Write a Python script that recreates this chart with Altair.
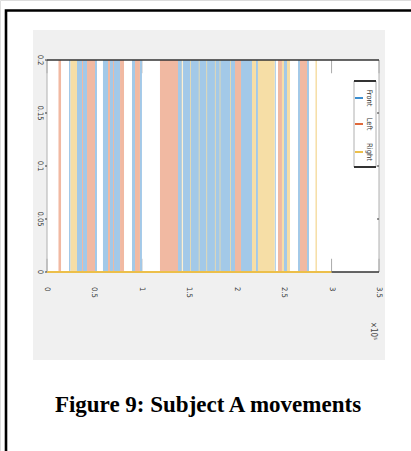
import altair as alt
import pandas as pd

# Time axis is in units of 1e5 samples; each movement is an interval where the
# signal sits at 0.2.
series_names = ["Front", "Left", "Right"]

front_start = [0.232, 0.316, 0.506, 0.590, 0.664, 0.896, 0.980, 1.381, 1.434, 2.045, 2.203, 2.272, 2.400, 2.498, 2.646, 2.741]
front_end = [0.248, 0.422, 0.527, 0.643, 0.770, 0.928, 1.001, 1.423, 1.982, 2.161, 2.224, 2.282, 2.412, 2.530, 2.667, 2.762]

left_start = [0.121, 0.369, 0.422, 0.643, 0.696, 0.770, 0.928, 1.191, 1.982, 2.435, 2.667]
left_end = [0.148, 0.380, 0.506, 0.664, 0.706, 0.812, 0.980, 1.381, 2.045, 2.477, 2.741]

right_start = [0.248, 1.420, 1.510, 1.600, 1.680, 1.770, 1.820, 1.930, 2.161, 2.224, 2.477, 2.530, 2.830]
right_end = [0.316, 1.428, 1.518, 1.608, 1.688, 1.778, 1.828, 1.938, 2.203, 2.400, 2.498, 2.562, 2.846]

signal_high = 0.2
signal_low = 0.0
record_end = 3.0

x_ticks = [0, 0.5, 1, 1.5, 2, 2.5, 3, 3.5]
y_ticks = [0, 0.05, 0.1, 0.15, 0.2]

fill_colors = ["#a3c9e8", "#f1b9a2", "#f6dea6"]
line_colors = ["#3b8ed0", "#e0693a", "#ecbf4a"]

# page size and the axes rectangle inside it
PW, PH = 411, 451
L, R, T, B = 47, 379, 60, 272
narrow = "Liberation Sans Narrow, DejaVu Sans Condensed, Arial Narrow, sans-serif"

rows = []
for name, starts, ends in zip(series_names, [front_start, left_start, right_start],
                              [front_end, left_end, right_end]):
    for s, e in zip(starts, ends):
        rows.append({"series": name, "start": s, "end": e,
                     "low": signal_low, "high": signal_high})
moves = pd.DataFrame(rows)

xs = alt.Scale(domain=[0, 3.5], range=[L, R], nice=False, zero=False)
ys = alt.Scale(domain=[0, 0.2], range=[B, T], nice=False)
color = alt.Color("series:N", scale=alt.Scale(domain=series_names, range=fill_colors), legend=None)


def block(**enc):
    return alt.Chart(pd.DataFrame({"k": [0]})).encode(**enc)


# grey figure panel and white axes area
panel = block(x=alt.value(33), x2=alt.value(385), y=alt.value(30), y2=alt.value(360)).mark_rect(color="#f0f0f0")
axes_bg = block(x=alt.value(L), x2=alt.value(R), y=alt.value(T), y2=alt.value(B)).mark_rect(color="white")

# inward ticks along bottom and top edges
tick_df = pd.DataFrame({"x": x_ticks, "b0": [0.0] * 8, "b1": [0.0125] * 8,
                        "t0": [0.2 - 0.0125] * 8, "t1": [0.2] * 8})
ticks_bottom = alt.Chart(tick_df).mark_rule(color="#aaaaaa", strokeWidth=1).encode(
    x=alt.X("x:Q", scale=xs, axis=None), y=alt.Y("b0:Q", scale=ys, axis=None), y2="b1:Q")
ticks_top = alt.Chart(tick_df).mark_rule(color="#aaaaaa", strokeWidth=1).encode(
    x=alt.X("x:Q", scale=xs, axis=None), y=alt.Y("t0:Q", scale=ys, axis=None), y2="t1:Q")

bars = alt.Chart(moves).mark_rect().encode(
    x=alt.X("start:Q", scale=xs, axis=None),
    x2="end:Q",
    y=alt.Y("low:Q", scale=ys, axis=None),
    y2="high:Q",
    color=color,
)

baseline = alt.Chart(pd.DataFrame({"a": [0.0], "b": [record_end], "y": [signal_low]})).mark_rule(
    color="#ecbf4a", strokeWidth=2).encode(
    x=alt.X("a:Q", scale=xs, axis=None), x2="b:Q", y=alt.Y("y:Q", scale=ys, axis=None))

# axes box
left_edge = block(x=alt.value(L), y=alt.value(T), y2=alt.value(B)).mark_rule(color="#b0b0b0", strokeWidth=1)
right_edge = block(x=alt.value(R), y=alt.value(T), y2=alt.value(B)).mark_rule(color="#b0b0b0", strokeWidth=1)
top_edge = block(x=alt.value(L), x2=alt.value(R), y=alt.value(T)).mark_rule(color="#333333", strokeWidth=1.5)
bottom_tail = alt.Chart(pd.DataFrame({"a": [record_end], "b": [3.5], "y": [0.0]})).mark_rule(
    color="#333333", strokeWidth=1.5).encode(
    x=alt.X("a:Q", scale=xs, axis=None), x2="b:Q", y=alt.Y("y:Q", scale=ys, axis=None))

# y ticks and labels
ytick_df = pd.DataFrame({"y": y_ticks})
yticks_left = alt.Chart(ytick_df).mark_rule(color="#333333", strokeWidth=1).encode(
    y=alt.Y("y:Q", scale=ys, axis=None), x=alt.value(L - 2), x2=alt.value(L))
yticks_right = alt.Chart(pd.DataFrame({"y": y_ticks[1:-1]})).mark_rule(color="#333333", strokeWidth=1).encode(
    y=alt.Y("y:Q", scale=ys, axis=None), x=alt.value(R - 2), x2=alt.value(R))
ylabels = alt.Chart(ytick_df).mark_text(
    angle=90, fontSize=7.5, font=narrow, color="#333", align="center", baseline="top").encode(
    y=alt.Y("y:Q", scale=ys, axis=None), x=alt.value(L - 3), text=alt.Text("y:Q", format="~g"))

# x labels
xlabels = alt.Chart(pd.DataFrame({"x": x_ticks})).mark_text(
    angle=90, fontSize=7.5, font=narrow, color="#333", align="left", baseline="middle").encode(
    x=alt.X("x:Q", scale=xs, axis=None), y=alt.value(B + 15), text=alt.Text("x:Q", format="~g"))

exp_label = alt.Chart(pd.DataFrame({"t": ["×10⁵"]})).mark_text(
    angle=90, fontSize=8, font=narrow, color="#444", align="center", baseline="middle").encode(
    text="t:N", x=alt.value(R - 6), y=alt.value(331))

# legend box
legend_bg = block(x=alt.value(354), x2=alt.value(376), y=alt.value(81), y2=alt.value(167)).mark_rect(
    fill="white", stroke="#b0b0b0", strokeWidth=1)
legend_top = block(x=alt.value(354), x2=alt.value(376), y=alt.value(81)).mark_rule(color="#333333", strokeWidth=2)
legend_bottom = block(x=alt.value(354), x2=alt.value(376), y=alt.value(167)).mark_rule(color="#333333", strokeWidth=2)

legend_layers = []
for name, col, yy in zip(series_names, line_colors, [98, 124, 152]):
    d = pd.DataFrame({"series": [name]})
    legend_layers.append(alt.Chart(d).mark_rule(color=col, strokeWidth=2).encode(
        x=alt.value(355), x2=alt.value(363), y=alt.value(yy)))
    legend_layers.append(alt.Chart(d).mark_text(
        angle=90, fontSize=7.5, font=narrow, color="#333", align="center", baseline="middle").encode(
        text="series:N", x=alt.value(369), y=alt.value(yy)))

caption = alt.Chart(pd.DataFrame({"t": ["Figure 9: Subject A movements"]})).mark_text(
    font="Liberation Serif, Times New Roman, serif", fontWeight="bold", fontSize=23,
    color="black", align="center", baseline="middle").encode(
    text="t:N", x=alt.value(208), y=alt.value(405))

# page frame: one L-shaped polyline along the left and top of the page
frame_df = pd.DataFrame({"px": [6.0, 6.0, 411.0], "py": [451.0, 10.5, 10.5], "o": [0, 1, 2]})
frame = alt.Chart(frame_df).mark_line(color="black", strokeWidth=2.6, strokeJoin="miter").encode(
    x=alt.X("px:Q", scale=alt.Scale(domain=[0, PW], range=[0, PW], nice=False, zero=False), axis=None),
    y=alt.Y("py:Q", scale=alt.Scale(domain=[0, PH], range=[0, PH], nice=False, zero=False), axis=None),
    order="o:Q",
)

main = alt.layer(
    panel, axes_bg, ticks_bottom, ticks_top, bars, baseline,
    left_edge, right_edge, top_edge, bottom_tail,
    yticks_left, yticks_right, ylabels, xlabels, exp_label,
    legend_bg, legend_top, legend_bottom, *legend_layers,
    caption,
)

chart = alt.layer(main, frame).resolve_scale(x="independent", y="independent").properties(
    width=PW, height=PH,
    autosize=alt.AutoSizeParams(type="none"),
    padding=0,
).configure_view(stroke=None).configure(background="white")

chart.save("out.html", embed_options={"renderer": "svg", "actions": False})
